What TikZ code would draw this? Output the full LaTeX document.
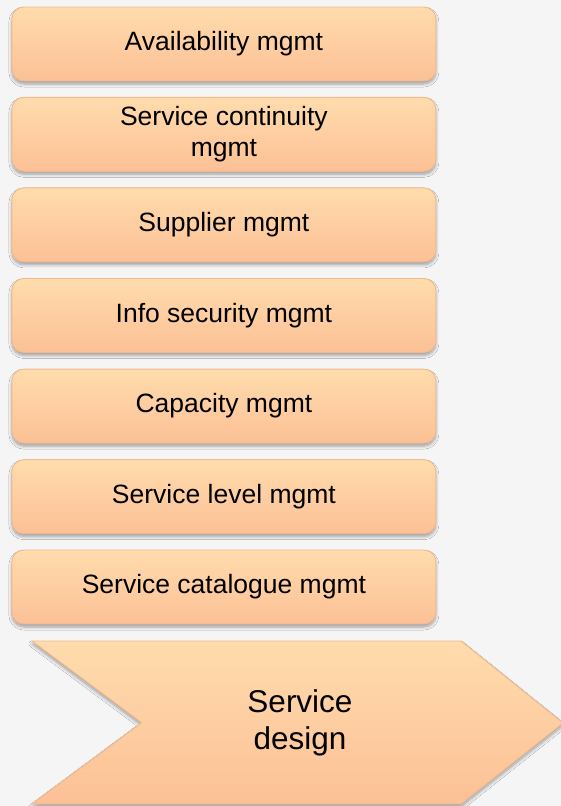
\documentclass[tikz,border=0pt]{standalone}
\usepackage{fontspec}
\setmainfont{Liberation Sans}
\usetikzlibrary{shadows.blur}

\definecolor{pagebg}{HTML}{F5F5F5}
\definecolor{peachtop}{HTML}{FFDCAD}
\definecolor{peachbot}{HTML}{FCC096}
\definecolor{peachline}{HTML}{F2B98C}

\tikzset{
  softshadow/.style={blur shadow={shadow xshift=0pt, shadow yshift=-3pt,
      shadow blur steps=6, shadow blur radius=3pt, shadow opacity=35}},
  procbox/.style={rounded corners=12pt, draw=peachline, line width=0.9pt,
      top color=peachtop, bottom color=peachbot, softshadow,
      minimum width=424pt, minimum height=74pt, inner sep=0pt,
      align=center, text=black, font=\fontsize{26.5}{31}\selectfont},
  chevronshape/.style={draw=peachline, line width=0.9pt,
      top color=peachtop, bottom color=peachbot, softshadow},
  chevronlabel/.style={align=center, text=black,
      font=\fontsize{31.5}{36.7}\selectfont},
}

\begin{document}
\begin{tikzpicture}[x=1pt,y=-1pt]
  % page background and fixed frame
  \fill[pagebg] (0,0) rectangle (561,806);
  \useasboundingbox (0,0) rectangle (561,806);
  \clip (0,0) rectangle (561,806);

  % stack of design processes
  \node[procbox] (avail)    at (223.9, 44.0)  {Availability mgmt};
  \node[procbox] (contin)   at (223.9, 134.3) {Service continuity\\mgmt};
  \node[procbox] (supplier) at (223.9, 224.9) {Supplier mgmt};
  \node[procbox] (infosec)  at (223.9, 315.5) {Info security mgmt};
  \node[procbox] (capacity) at (223.9, 406.1) {Capacity mgmt};
  \node[procbox] (slm)      at (223.9, 496.7) {Service level mgmt};
  \node[procbox] (catalog)  at (223.9, 587.0) {Service catalogue mgmt};

  % stage chevron
  \coordinate (chTL)    at (32, 641);
  \coordinate (chTR)    at (461, 641);
  \coordinate (chTip)   at (563, 723);
  \coordinate (chBR)    at (461, 804);
  \coordinate (chBL)    at (32, 804);
  \coordinate (chNotch) at (141.7, 722.7);
  \path[chevronshape] (chTL) -- (chTR) -- (chTip) -- (chBR) -- (chBL) -- (chNotch) -- cycle;
  \node[chevronlabel] (design) at (300, 723) {Service\\design};
\end{tikzpicture}
\end{document}
